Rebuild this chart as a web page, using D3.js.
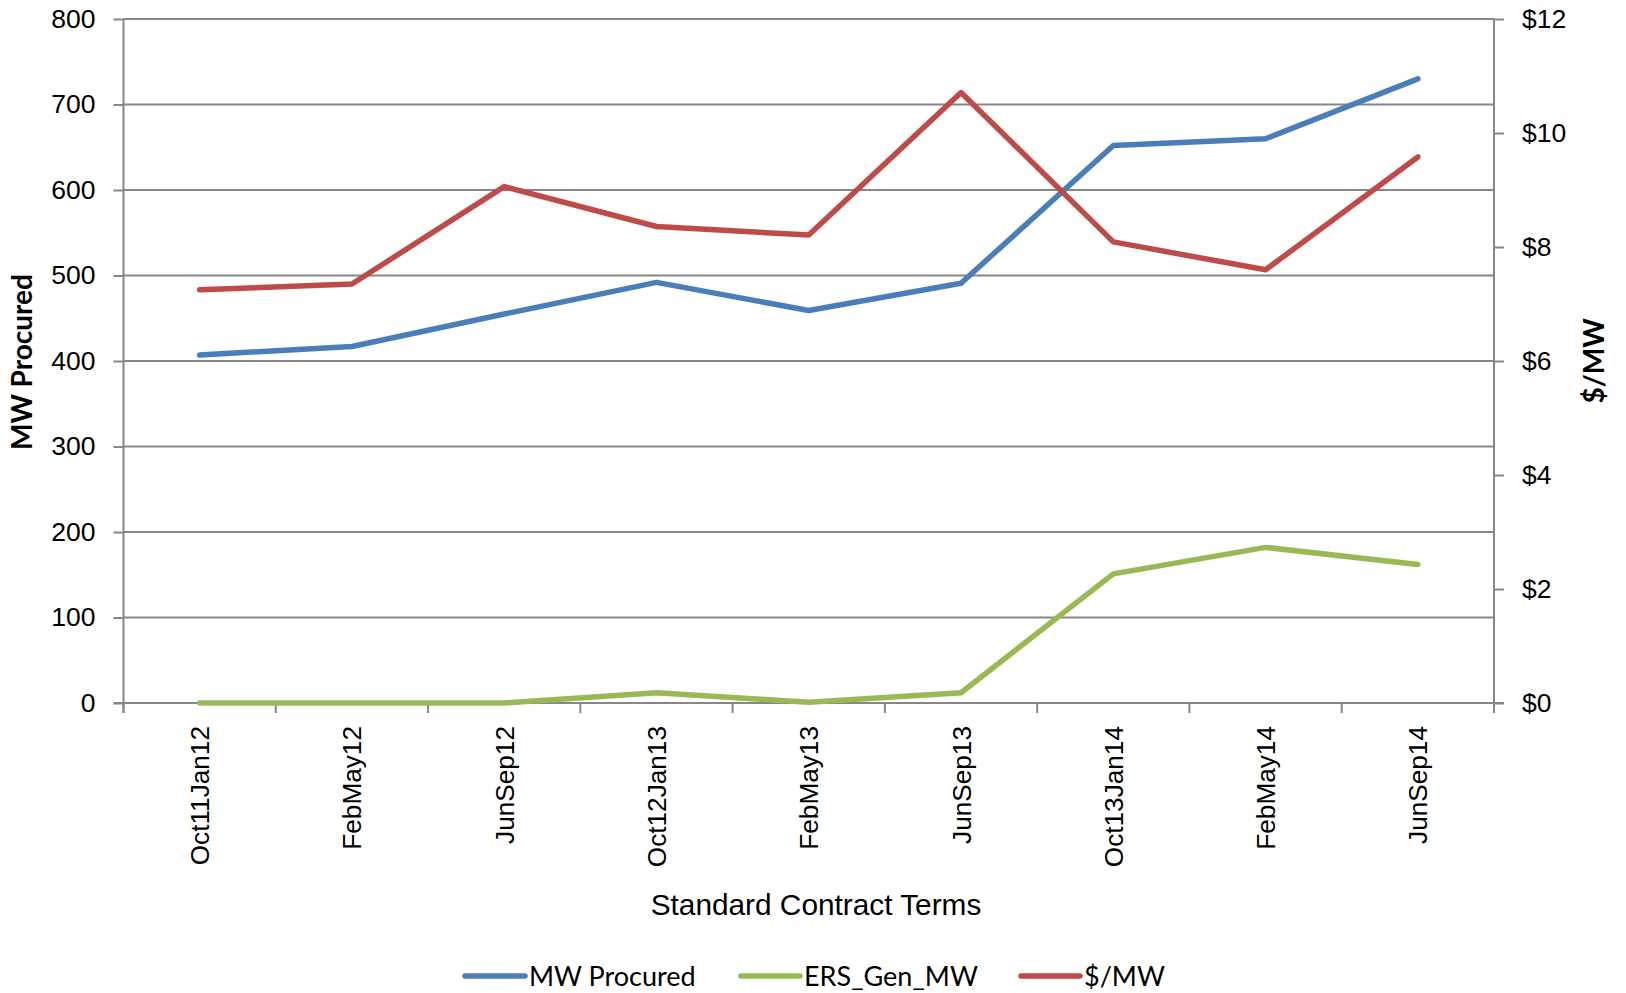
<!DOCTYPE html>
<html><head><meta charset="utf-8">
<script src="https://cdn.jsdelivr.net/npm/d3@7"></script>
<style>
html,body{margin:0;padding:0;background:#fff;}
svg{display:block;}
</style></head>
<body>
<svg id="chart" width="1626" height="993"></svg>
<script>
const categories = ["Oct11Jan12","FebMay12","JunSep12","Oct12Jan13","FebMay13","JunSep13","Oct13Jan14","FebMay14","JunSep14"];
const mwProcured = [407, 417, 455, 492, 459, 491, 652, 660, 730];
const ersGenMW = [0, 0, 0, 12, 1, 12, 151, 182, 162];
const pricePerMW = [7.25, 7.35, 9.06, 8.36, 8.21, 10.71, 8.09, 7.6, 9.58];
const leftTicks = [0,100,200,300,400,500,600,700,800];
const rightTicks = [0,2,4,6,8,10,12];

const svg = d3.select("#chart");
const M = {left:123.5, right:1494, top:19, bottom:703};
const x = d3.scaleBand().domain(categories).range([M.left, M.right]).padding(0);
const yL = d3.scaleLinear().domain([0,800]).range([M.bottom, M.top]);
const yR = d3.scaleLinear().domain([0,12]).range([M.bottom, M.top]);
const grid = "#878787";
const tickFont = "'Liberation Sans', Arial, sans-serif";

// gridlines
svg.append("g").selectAll("line").data(leftTicks.filter(d=>d>0)).join("line")
  .attr("x1", M.left).attr("x2", M.right)
  .attr("y1", d=>yL(d)).attr("y2", d=>yL(d))
  .attr("stroke", grid).attr("stroke-width", 2);

// left axis
const gL = svg.append("g").attr("transform", `translate(${M.left},0)`)
  .call(d3.axisLeft(yL).tickValues(leftTicks).tickSize(10).tickPadding(18).tickFormat(d3.format("d")));
// right axis
const gR = svg.append("g").attr("transform", `translate(${M.right},0)`)
  .call(d3.axisRight(yR).tickValues(rightTicks).tickSize(10).tickPadding(18).tickFormat(d=>"$"+d));
// bottom axis with ticks at boundaries
const boundaries = categories.map(c=>x(c)).concat([M.right]);
const gB = svg.append("g").attr("transform", `translate(0,${M.bottom})`);
gB.append("line").attr("x1", M.left-10).attr("x2", M.right+10).attr("y1",0).attr("y2",0).attr("stroke",grid).attr("stroke-width",2);
gB.selectAll(".bt").data(boundaries).join("line").attr("class","bt")
  .attr("x1", d=>d).attr("x2", d=>d).attr("y1",0).attr("y2",10).attr("stroke",grid).attr("stroke-width",2);
gB.selectAll(".bl").data(categories).join("text").attr("class","bl")
  .attr("transform", d=>`translate(${x(d)+x.bandwidth()/2+9.5},23) rotate(-90)`)
  .attr("text-anchor","end")
  .style("font-family", tickFont).style("font-size","26.2px").attr("fill","#000")
  .text(d=>d);

[gL,gR].forEach(g=>{
  g.select(".domain").attr("stroke",grid).attr("stroke-width",2);
  g.selectAll(".tick line").attr("stroke",grid).attr("stroke-width",2);
  g.selectAll(".tick text").style("font-family",tickFont).style("font-size","26.5px").attr("fill","#000");
});
gL.select(".domain").attr("d", `M0,${M.top}V${M.bottom+10}`);
gR.select(".domain").attr("d", `M0,${M.top}V${M.bottom+10}`);

// lines
const lineL = d3.line().x((d,i)=>x(categories[i])+x.bandwidth()/2).y(d=>yL(d));
const lineR = d3.line().x((d,i)=>x(categories[i])+x.bandwidth()/2).y(d=>yR(d));
const colors = {mw:"#4A7EBB", ers:"#98B954", price:"#BE4B48"};
svg.append("path").datum(mwProcured).attr("d", lineL).attr("fill","none").attr("stroke",colors.mw).attr("stroke-width",5.5).attr("stroke-linecap","round").attr("stroke-linejoin","round");
svg.append("path").datum(ersGenMW).attr("d", lineL).attr("fill","none").attr("stroke",colors.ers).attr("stroke-width",5.5).attr("stroke-linecap","round").attr("stroke-linejoin","round");
svg.append("path").datum(pricePerMW).attr("d", lineR).attr("fill","none").attr("stroke",colors.price).attr("stroke-width",5.5).attr("stroke-linecap","round").attr("stroke-linejoin","round");

// axis titles
svg.append("text").attr("transform","translate(32,362) rotate(-90)").attr("text-anchor","middle")
  .style("font-family","Lato, 'Open Sans', sans-serif").style("font-weight","bold").style("font-size","28px")
  .text("MW Procured");
svg.append("text").attr("transform","translate(1604,361) rotate(-90)").attr("text-anchor","middle")
  .style("font-family","Lato, 'Open Sans', sans-serif").style("font-weight","bold").style("font-size","28px")
  .text("$/MW");
svg.append("text").attr("x",816).attr("y",915).attr("text-anchor","middle")
  .style("font-family",tickFont).style("font-size","29.8px")
  .text("Standard Contract Terms");

// legend
const legendItems = [
  {label:"MW Procured", color:colors.mw, x1:465, x2:525},
  {label:"ERS_Gen_MW", color:colors.ers, x1:741, x2:800},
  {label:"$/MW", color:colors.price, x1:1021, x2:1080}
];
const lg = svg.append("g");
legendItems.forEach(it=>{
  lg.append("line").attr("x1",it.x1).attr("x2",it.x2).attr("y1",976).attr("y2",976)
    .attr("stroke",it.color).attr("stroke-width",5.5).attr("stroke-linecap","round");
  lg.append("text").attr("x",it.x2+4).attr("y",986)
    .style("font-family","Lato, 'Open Sans', sans-serif").style("font-size","27px").text(it.label);
});
</script>
</body></html>
